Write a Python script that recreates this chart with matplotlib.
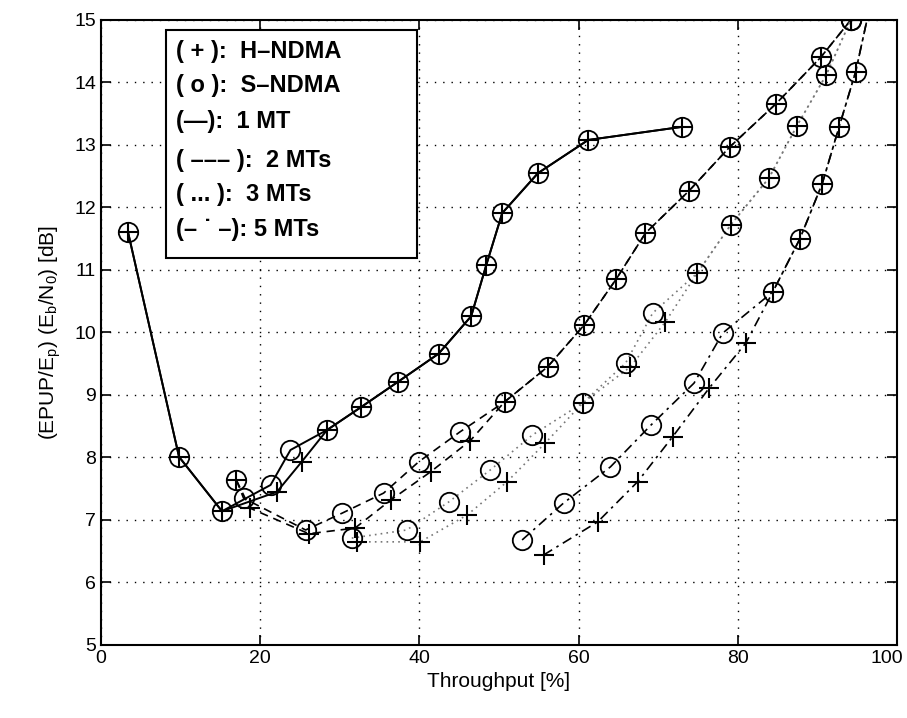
import numpy as np
import matplotlib
matplotlib.use("Agg")
import matplotlib.pyplot as plt
import matplotlib.transforms as mtransforms
from matplotlib.patches import Rectangle

plt.rcParams['font.family'] = ['Liberation Sans', 'DejaVu Sans']

# 1 MT (solid)
x1_s = [3.4, 9.8, 15.2, 21.3, 23.8, 28.4, 32.6, 37.3, 42.4, 46.5, 48.4, 50.4, 54.9, 61.2, 73.0]
y1_s = [11.60, 8.01, 7.14, 7.56, 8.12, 8.44, 8.80, 9.21, 9.66, 10.26, 11.08, 11.91, 12.55, 13.08, 13.29]
x1_h = [3.4, 9.8, 15.2, 22.1, 25.2, 28.4, 32.6, 37.3, 42.4, 46.5, 48.4, 50.4, 54.9, 61.2, 73.0]
y1_h = [11.60, 8.01, 7.14, 7.45, 7.93, 8.44, 8.80, 9.21, 9.66, 10.26, 11.08, 11.91, 12.55, 13.08, 13.29]

# 2 MTs (dashed)
x2_s = [17.0, 17.9, 25.7, 30.3, 35.5, 39.9, 45.1, 50.7, 56.1, 60.7, 64.7, 68.4, 73.9, 79.0, 84.8, 90.4, 94.2]
y2_s = [7.64, 7.35, 6.84, 7.11, 7.43, 7.93, 8.41, 8.89, 9.45, 10.12, 10.85, 11.59, 12.27, 12.97, 13.66, 14.40, 15.0]
x2_h = [17.0, 18.7, 26.1, 31.9, 36.4, 41.4, 46.4, 50.7, 56.1, 60.7, 64.7, 68.4, 73.9, 79.0, 84.8, 90.4, 94.2]
y2_h = [7.64, 7.19, 6.78, 6.87, 7.32, 7.77, 8.27, 8.89, 9.45, 10.12, 10.85, 11.59, 12.27, 12.97, 13.66, 14.40, 15.0]

# 3 MTs (dotted)
x3_s = [31.5, 38.4, 43.7, 48.9, 54.2, 60.5, 65.9, 69.3, 74.9, 79.1, 83.9, 87.4, 91.1, 94.2]
y3_s = [6.71, 6.84, 7.29, 7.80, 8.36, 8.87, 9.51, 10.31, 10.95, 11.72, 12.47, 13.30, 14.12, 15.0]
x3_h = [32.2, 40.1, 46.0, 51.0, 55.8, 60.5, 66.5, 70.9, 74.9, 79.1, 83.9, 87.4, 91.1, 94.2]
y3_h = [6.65, 6.65, 7.08, 7.61, 8.23, 8.87, 9.45, 10.17, 10.95, 11.72, 12.47, 13.30, 14.12, 15.0]

# 5 MTs (dash-dot)
x5_s = [52.9, 58.1, 64.0, 69.1, 74.5, 78.1, 84.4, 87.8, 90.6, 92.7, 94.8, 97.6]
y5_s = [6.68, 7.27, 7.85, 8.52, 9.19, 9.99, 10.65, 11.50, 12.38, 13.28, 14.17, 15.8]
x5_h = [55.6, 62.4, 67.4, 71.8, 76.4, 81.0, 84.4, 87.8, 90.6, 92.7, 94.8, 97.6]
y5_h = [6.44, 6.97, 7.61, 8.33, 9.11, 9.83, 10.65, 11.50, 12.38, 13.28, 14.17, 15.8]

legend_lines = ["( + ):  H\u2013NDMA", "( o ):  S\u2013NDMA", "(\u2014):  1 MT",
                "( \u2013\u2013\u2013 ):  2 MTs", "( ... ):  3 MTs", "(\u2013 \u02d9 \u2013): 5 MTs"]

fig = plt.figure(figsize=(9.07, 7.18), dpi=100)
ax = fig.add_axes([0.1114, 0.1017, 0.8776, 0.8705])

styles = [
    (x1_s, y1_s, x1_h, y1_h, dict(ls='-', lw=1.4, color='black')),
    (x2_s, y2_s, x2_h, y2_h, dict(ls=(0, (5, 3.5)), lw=1.2, color='black')),
    (x3_s, y3_s, x3_h, y3_h, dict(ls=(0, (1, 2.5)), lw=1.2, color='#777777')),
    (x5_s, y5_s, x5_h, y5_h, dict(ls=(0, (6, 3, 1.5, 3)), lw=1.2, color='black')),
]
for xs, ys, xh, yh, st in styles:
    ax.plot(xs, ys, **st)
    ax.plot(xh, yh, **st)
    ax.plot(xs, ys, ls='none', marker='o', ms=14, mfc='none', mec='black', mew=1.3)
    ax.plot(xh, yh, ls='none', marker='+', ms=15, mec='black', mew=1.5)

ax.set_xlim(0, 100)
ax.set_ylim(5, 15)
ax.set_xticks(np.arange(0, 101, 20))
ax.set_yticks(np.arange(5, 16, 1))
ax.grid(True, color='black', ls=(0, (1, 5)), lw=1.0)
ax.tick_params(direction='in', top=True, right=True, length=7, width=1.2, labelsize=14)
for s in ax.spines.values():
    s.set_linewidth(1.5)

# keep the "100" label inside the figure
fig.canvas.draw()
last = ax.get_xticklabels()[-1]
last.set_transform(last.get_transform() + mtransforms.ScaledTranslation(-10 / 100, 0, fig.dpi_scale_trans))

ax.set_xlabel('Throughput [%]', fontsize=15, labelpad=4)
ax.set_ylabel(r'(EPUP/E$_\mathregular{p}$) (E$_\mathregular{b}$/N$_\mathregular{0}$) [dB]',
              fontsize=15, labelpad=8)

ax.add_patch(Rectangle((8.2, 11.19), 31.5, 3.65, fill=True, facecolor='white',
                       edgecolor='black', lw=1.5, zorder=5))
ly = [14.5, 13.95, 13.38, 12.75, 12.2, 11.64]
for t, yy in zip(legend_lines, ly):
    ax.text(9.4, yy, t, fontsize=17, fontweight='bold', va='center', ha='left', zorder=6)

fig.savefig('out.png', dpi=100)
